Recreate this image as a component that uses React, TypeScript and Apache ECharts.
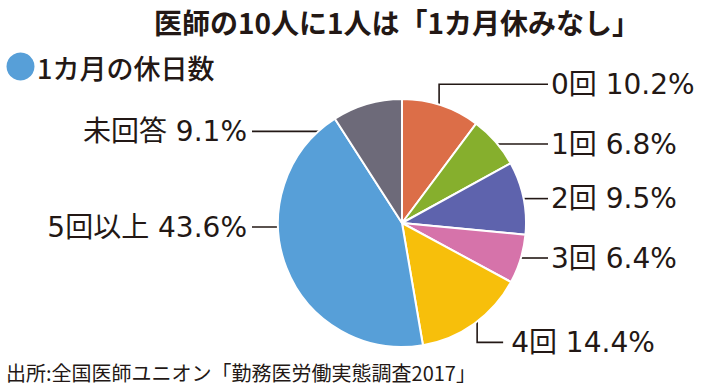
import React, { useEffect, useRef } from "react";
import * as echarts from "echarts";

// ---- data ----
const TITLE = "医師の10人に1人は「1カ月休みなし」";
const SUBTITLE = "1カ月の休日数";
const SOURCE = "出所:全国医師ユニオン「勤務医労働実態調査2017」";
const categories = ["0回", "1回", "2回", "3回", "4回", "5回以上", "未回答"];
const shares = [10.2, 6.8, 9.5, 6.4, 14.4, 43.6, 9.1];
const colors = ["#DC6E48", "#86AF2D", "#5E63AD", "#D673AA", "#F7BF0B", "#579FD8", "#6D6A79"];

// ---- layout (styling only) ----
const CX = 402;
const CY = 223;
const R = 124;
const TEXT = "#231815";
const LABEL_FONT = "'DejaVu Sans', 'Noto Sans CJK JP', sans-serif";
const CJK_FONT = "'Noto Sans CJK JP', sans-serif";

type LabelLayout = {
  side: "right" | "left";
  rFrac: number;
  dAngle?: number;
  fixedAngle?: number;
  labelDy: number;
  nearX?: number;
};

const labelLayouts: LabelLayout[] = [
  { side: "right", rFrac: 0.95, labelDy: -27 },
  { side: "right", rFrac: 0.97, labelDy: 0 },
  { side: "right", rFrac: 0.97, labelDy: 0 },
  { side: "right", rFrac: 0.97, labelDy: 0 },
  { side: "right", rFrac: 0.96, dAngle: -3.5, labelDy: 27, nearX: 34 },
  { side: "left", rFrac: 0.93, fixedAngle: 268, labelDy: 0 },
  { side: "left", rFrac: 0.77, labelDy: 0 },
];

const RIGHT_LINE_END = 548;
const RIGHT_TEXT_X = 551;
const LEFT_LINE_START = 252;
const LEFT_TEXT_X = 247;

function midAngles(vals: number[]): number[] {
  const total = vals.reduce((a, b) => a + b, 0);
  let acc = 0;
  return vals.map((v) => {
    const start = acc;
    acc += v;
    return ((start + v / 2) / total) * 360;
  });
}

export default function App() {
  const ref = useRef<HTMLDivElement>(null);

  useEffect(() => {
    document.body.style.margin = "0";
    if (!ref.current) return;
    const chart = echarts.init(ref.current, undefined, { renderer: "svg" });
    const mids = midAngles(shares);

    const anchorOf = (i: number) => {
      const l = labelLayouts[i];
      const a = ((l.fixedAngle ?? mids[i] + (l.dAngle ?? 0)) * Math.PI) / 180;
      const r = R * l.rFrac;
      return [CX + r * Math.sin(a), CY - r * Math.cos(a)];
    };

    chart.setOption({
      animation: false,
      backgroundColor: "#ffffff",
      graphic: [
        {
          type: "text",
          x: 397,
          y: 22,
          style: {
            text: TITLE,
            fontSize: 28,
            fontWeight: "bold",
            fontFamily: CJK_FONT,
            fill: TEXT,
            textAlign: "center",
            textVerticalAlign: "middle",
          },
        },
        {
          type: "circle",
          shape: { cx: 20.5, cy: 66.5, r: 14 },
          style: { fill: colors[5] },
        },
        {
          type: "text",
          x: 37,
          y: 67,
          style: {
            text: SUBTITLE,
            fontSize: 27,
            fontWeight: 500,
            fontFamily: CJK_FONT,
            fill: TEXT,
            textAlign: "left",
            textVerticalAlign: "middle",
          },
        },
        {
          type: "text",
          x: 6,
          y: 372,
          style: {
            text: SOURCE,
            fontSize: 20,
            fontFamily: CJK_FONT,
            fill: TEXT,
            textAlign: "left",
            textVerticalAlign: "middle",
          },
        },
      ],
      series: [
        {
          type: "pie",
          center: [CX, CY],
          radius: R,
          startAngle: 90,
          clockwise: true,
          avoidLabelOverlap: false,
          silent: true,
          data: categories.map((name, i) => ({
            name,
            value: shares[i],
            itemStyle: { color: colors[i] },
          })),
          itemStyle: { borderColor: "#ffffff", borderWidth: 2 },
          label: {
            show: true,
            position: "outside",
            formatter: (p: any) => `${p.name} ${Number(p.value).toFixed(1)}%`,
            fontSize: 28,
            fontFamily: LABEL_FONT,
            color: TEXT,
          },
          labelLine: {
            show: true,
            length: 10,
            length2: 10,
            smooth: false,
            lineStyle: { color: TEXT, width: 1.6 },
          },
          labelLayout: (params: any) => {
            const i = params.dataIndex;
            const l = labelLayouts[i];
            const [ax, ay] = anchorOf(i);
            const ly = ay + l.labelDy;
            if (l.side === "right") {
              if (l.nearX) {
                const tx = ax + l.nearX;
                const lineEnd = tx - 8;
                return {
                  x: tx,
                  y: ly,
                  align: "left",
                  verticalAlign: "middle",
                  labelLinePoints: [
                    [ax, ay],
                    [ax, ly],
                    [lineEnd, ly],
                  ],
                };
              }
              const pts =
                l.labelDy !== 0
                  ? [
                      [ax, ay],
                      [ax, ly],
                      [RIGHT_LINE_END, ly],
                    ]
                  : [
                      [ax, ay],
                      [(ax + RIGHT_LINE_END) / 2, ly],
                      [RIGHT_LINE_END, ly],
                    ];
              return {
                x: RIGHT_TEXT_X,
                y: ly,
                align: "left",
                verticalAlign: "middle",
                labelLinePoints: pts,
              };
            }
            return {
              x: LEFT_TEXT_X,
              y: ly,
              align: "right",
              verticalAlign: "middle",
              labelLinePoints: [
                [ax, ay],
                [(ax + LEFT_LINE_START) / 2, ly],
                [LEFT_LINE_START, ly],
              ],
            };
          },
        },
      ],
    });

    return () => chart.dispose();
  }, []);

  return <div ref={ref} style={{ width: 710, height: 388 }} />;
}
